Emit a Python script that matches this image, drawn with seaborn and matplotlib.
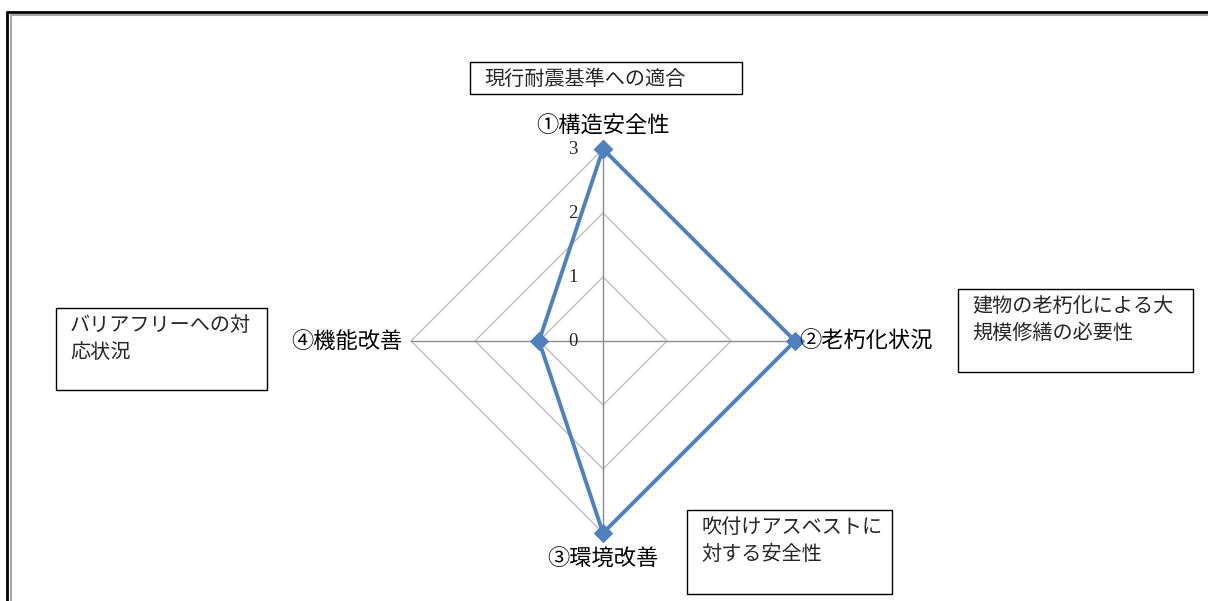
import numpy as np
import matplotlib.pyplot as plt
import seaborn as sns
import pandas as pd
from matplotlib.patches import Rectangle
from matplotlib.lines import Line2D

# -------------------------------------------------------------
# Data
# -------------------------------------------------------------
categories = ["①構造安全性", "②老朽化状況", "③環境改善", "④機能改善"]
scores = [3, 3, 3, 1]
ring_levels = [1, 2, 3]
tick_values = [0, 1, 2, 3]
notes = [
    "現行耐震基準への適合",
    "建物の老朽化による大\n規模修繕の必要性",
    "吹付けアスベストに\n対する安全性",
    "バリアフリーへの対\n応状況",
]

sns.set_style("white")
plt.rcParams["font.family"] = ["Noto Sans CJK JP", "DejaVu Sans"]

W, H = 1208, 601
fig = plt.figure(figsize=(W / 100, H / 100), dpi=100)

# center (603, 341) px, radius 192 px
cx, cy, rad = 603, 341, 192
ax = fig.add_axes([(cx - rad) / W, 1 - (cy + rad) / H, 2 * rad / W, 2 * rad / H],
                  projection="polar")
ax.set_theta_zero_location("N")
ax.set_theta_direction(-1)
ax.set_ylim(0, 3)
ax.grid(False)
ax.spines["polar"].set_visible(False)
ax.set_xticks([])
ax.set_yticks([])
ax.patch.set_alpha(0)

theta = np.linspace(0, 2 * np.pi, len(categories), endpoint=False)

# polygon rings and spokes
for lv in ring_levels:
    ax.plot(np.append(theta, theta[0]), [lv] * (len(theta) + 1),
            color="#BFBFBF", lw=1.0, zorder=1, clip_on=False)
for t in theta:
    ax.plot([t, t], [0, ring_levels[-1]], color="#8C8C8C", lw=1.0, zorder=1,
            clip_on=False)

# data line (closed loop)
df = pd.DataFrame({"theta": np.append(theta, theta[0]),
                   "score": scores + scores[:1]})
sns.lineplot(data=df, x="theta", y="score", ax=ax, sort=False, estimator=None,
             color="#4F81BD", lw=2.8, marker="D", markersize=9,
             markeredgecolor="#4F81BD", zorder=3, clip_on=False)
ax.set_xlabel("")
ax.set_ylabel("")

# radial tick labels
for v in tick_values:
    ax.annotate(str(v), xy=(0, v), xytext=(-21.5, 0), textcoords="offset points",
                ha="center", va="center", fontsize=13.5,
                family="Liberation Serif", zorder=4)

# category labels
offsets = [(0, 8, "center", "bottom"), (3, 0, "left", "center"),
           (0, -10, "center", "top"), (-6, 0, "right", "center")]
for t, lab, (dx, dy, ha, va) in zip(theta, categories, offsets):
    ax.annotate(lab, xy=(t, 3), xytext=(dx, dy), textcoords="offset points",
                ha=ha, va=va, fontsize=16, color="#000000", annotation_clip=False)

# note boxes (px: left, top, right, bottom)
boxes = [(470, 62, 742, 94), (958, 289, 1193, 372),
         (687, 510, 892, 594), (56, 308, 267, 390)]
for (l, t, r, b), txt in zip(boxes, notes):
    fig.add_artist(Rectangle((l / W, 1 - b / H), (r - l) / W, (b - t) / H,
                             transform=fig.transFigure, fill=False,
                             edgecolor="black", lw=1.0))
    fig.text((l + 14) / W, 1 - (t + 7) / H, txt, ha="left", va="top",
             fontsize=14.5, linespacing=1.38)

# outer frame
for off, col, lw in [(7.5, "black", 2.0), (10.5, "#A6A6A6", 1.5)]:
    fig.add_artist(Line2D([off / W, off / W], [0, 1 - off / H - 4 / H],
                          transform=fig.transFigure, color=col, lw=lw))
    fig.add_artist(Line2D([off / W, 1], [1 - (off + 4) / H, 1 - (off + 4) / H],
                          transform=fig.transFigure, color=col, lw=lw))

fig.savefig("out.png", dpi=100, facecolor="white")
